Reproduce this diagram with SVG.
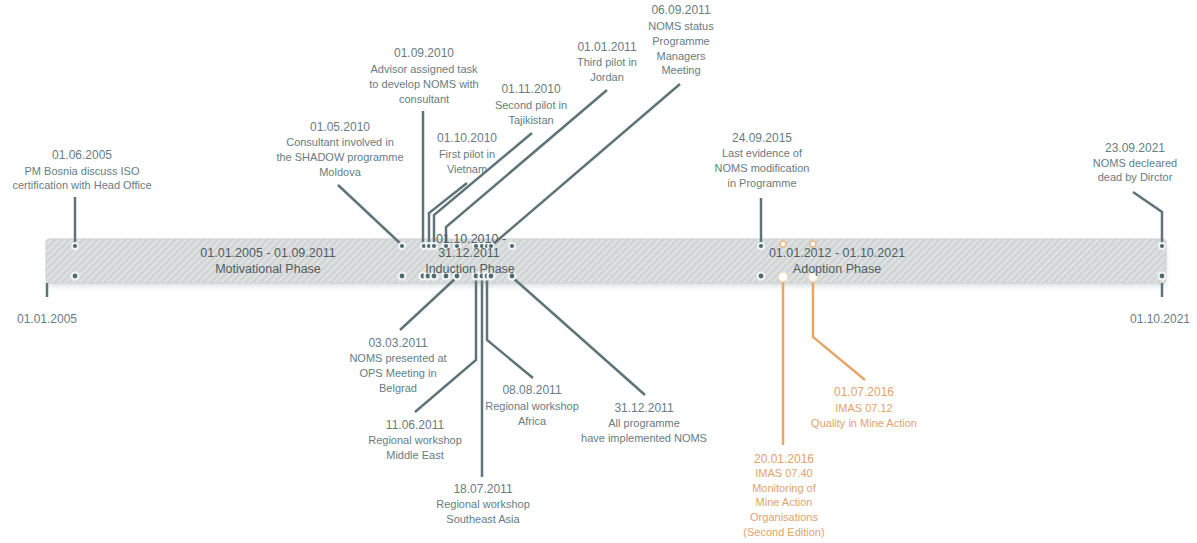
<svg xmlns="http://www.w3.org/2000/svg" width="1197" height="543" viewBox="0 0 1197 543">
<defs>
<pattern id="hatch" width="5" height="5" patternUnits="userSpaceOnUse" patternTransform="rotate(45)">
<rect width="5" height="5" fill="#d2d5d5"/>
<rect width="2" height="5" fill="#e1e3e3"/>
</pattern>
<filter id="sh" x="-5%" y="-50%" width="110%" height="200%">
<feGaussianBlur stdDeviation="2.5"/>
</filter>
<style>
.d{font-family:"Liberation Sans",Arial,sans-serif;font-size:12px;fill:#667d83;text-anchor:middle}
.t{font-family:"Liberation Sans",Arial,sans-serif;font-size:11px;fill:#667d83;text-anchor:middle}
.od{font-family:"Liberation Sans",Arial,sans-serif;font-size:12px;fill:#e2a36a;text-anchor:middle}
.ot{font-family:"Liberation Sans",Arial,sans-serif;font-size:11px;fill:#e2a36a;text-anchor:middle}
.p{font-family:"Liberation Sans",Arial,sans-serif;font-size:12.5px;fill:#4e5e62;text-anchor:middle}
.ln{fill:none;stroke:#5e7479;stroke-width:2.5;stroke-linejoin:miter}
.ol{fill:none;stroke:#e4a769;stroke-width:2.5}
.dt{fill:#516a70;stroke:#f2f5f5;stroke-width:1.8}
.dtb{fill:#516a70;stroke:#f2f5f5;stroke-width:2.2}
.odt{fill:#ffffff;stroke:#ebb886;stroke-width:1.5}
.odb{fill:#ffffff;stroke:#f1d2b4;stroke-width:1.2}
</style>
</defs>
<rect width="1197" height="543" fill="#ffffff"/>

<g id="band">
<rect x="48" y="242" width="1118" height="44" rx="3" fill="#aab4b6" opacity="0.45" filter="url(#sh)"/>
<rect x="46" y="239" width="1120" height="44" rx="3" fill="url(#hatch)" stroke="#cdd1d1" stroke-width="1"/>
</g>

<g id="connectors">
<path class="ln" d="M75,197 V246"/>
<path class="ln" d="M338,185 L402,245"/>
<path class="ln" d="M423,111 V246"/>
<path class="ln" d="M467,183 L429,213 V246"/>
<path class="ln" d="M532,133 L434,215 V246"/>
<path class="ln" d="M607,90 L446,227 V246"/>
<path class="ln" d="M680,84 L491,246"/>
<path class="ln" d="M761,198 V246"/>
<path class="ln" d="M1133,192 L1162,212 V246"/>
<path class="ln" d="M47,283 V297"/>
<path class="ln" d="M1162,283 V297"/>
<path class="ln" d="M457,277 L400,330"/>
<path class="ln" d="M476,277 V360 L415,412"/>
<path class="ln" d="M482,277 V477"/>
<path class="ln" d="M487,277 V340 L533,378"/>
<path class="ln" d="M512,277 L645,395"/>
<path class="ol" d="M783,277 V445"/>
<path class="ol" d="M813,277 V337 L865,380"/>
</g>

<g id="dots">
<circle class="dt" cx="75" cy="246" r="3"/><circle class="dtb" cx="75" cy="276" r="3.5"/>
<circle class="dt" cx="402" cy="246" r="3"/><circle class="dtb" cx="402" cy="276" r="3.5"/>
<circle class="dt" cx="424" cy="246" r="3"/><circle class="dtb" cx="423" cy="276" r="3.5"/>
<circle class="dt" cx="429" cy="246" r="3"/><circle class="dtb" cx="428" cy="276" r="3.5"/>
<circle class="dt" cx="434" cy="246" r="3"/><circle class="dtb" cx="434" cy="276" r="3.5"/>
<circle class="dt" cx="446" cy="246" r="3"/><circle class="dtb" cx="446" cy="276" r="3.5"/>
<circle class="dt" cx="457" cy="246" r="3"/><circle class="dtb" cx="457" cy="276" r="3.5"/>
<circle class="dt" cx="476" cy="246" r="3"/><circle class="dtb" cx="476" cy="276" r="3.5"/>
<circle class="dt" cx="482" cy="246" r="3"/><circle class="dtb" cx="482" cy="276" r="3.5"/>
<circle class="dt" cx="487" cy="246" r="3"/><circle class="dtb" cx="487" cy="276" r="3.5"/>
<circle class="dt" cx="491" cy="246" r="3"/><circle class="dtb" cx="491" cy="276" r="3.5"/>
<circle class="dt" cx="512" cy="246" r="3"/><circle class="dtb" cx="512" cy="276" r="3.5"/>
<circle class="dt" cx="761" cy="246" r="3"/><circle class="dtb" cx="761" cy="276" r="3.5"/>
<circle class="dt" cx="1162" cy="246" r="3"/><circle class="dtb" cx="1162" cy="276" r="3.5"/>
<circle class="odt" cx="783" cy="244" r="3"/><circle class="odb" cx="783" cy="277" r="5"/>
<circle class="odt" cx="813" cy="244" r="3"/><circle class="odb" cx="813" cy="277" r="5"/>
</g>

<g id="phase-motivational">
<text class="p" x="268" y="257">01.01.2005 - 01.09.2011</text>
<text class="p" x="268" y="273">Motivational Phase</text>
</g>
<g id="phase-induction">
<text class="p" x="471" y="243">01.10.2010 -</text>
<text class="p" x="469" y="257">31.12.2011</text>
<text class="p" x="470" y="273">Induction Phase</text>
</g>
<g id="phase-adoption">
<text class="p" x="837" y="257">01.01.2012 - 01.10.2021</text>
<text class="p" x="837" y="273">Adoption Phase</text>
</g>

<g id="ev-20050101"><text class="d" x="47" y="323">01.01.2005</text></g>
<g id="ev-20211001"><text class="d" x="1160" y="323">01.10.2021</text></g>

<g id="ev-20050601">
<text class="d" x="82" y="159">01.06.2005</text>
<text class="t" x="82" y="175">PM Bosnia discuss ISO</text>
<text class="t" x="82" y="189">certification with Head Office</text>
</g>
<g id="ev-20100501">
<text class="d" x="340" y="131">01.05.2010</text>
<text class="t" x="340" y="146">Consultant involved in</text>
<text class="t" x="340" y="161">the SHADOW programme</text>
<text class="t" x="340" y="176">Moldova</text>
</g>
<g id="ev-20100901">
<text class="d" x="424" y="57">01.09.2010</text>
<text class="t" x="424" y="73">Advisor assigned task</text>
<text class="t" x="424" y="88">to develop NOMS with</text>
<text class="t" x="424" y="103">consultant</text>
</g>
<g id="ev-20101001">
<text class="d" x="467" y="142">01.10.2010</text>
<text class="t" x="467" y="158">First pilot in</text>
<text class="t" x="467" y="173">Vietnam</text>
</g>
<g id="ev-20101101">
<text class="d" x="531" y="93">01.11.2010</text>
<text class="t" x="531" y="109">Second pilot in</text>
<text class="t" x="531" y="124">Tajikistan</text>
</g>
<g id="ev-20110101">
<text class="d" x="607" y="51">01.01.2011</text>
<text class="t" x="607" y="66">Third pilot in</text>
<text class="t" x="607" y="81">Jordan</text>
</g>
<g id="ev-20110906">
<text class="d" x="681" y="14">06.09.2011</text>
<text class="t" x="681" y="30">NOMS status</text>
<text class="t" x="681" y="45">Programme</text>
<text class="t" x="681" y="60">Managers</text>
<text class="t" x="681" y="74">Meeting</text>
</g>
<g id="ev-20150924">
<text class="d" x="762" y="142">24.09.2015</text>
<text class="t" x="762" y="157">Last evidence of</text>
<text class="t" x="762" y="172">NOMS modification</text>
<text class="t" x="762" y="187">in Programme</text>
</g>
<g id="ev-20210923">
<text class="d" x="1135" y="152">23.09.2021</text>
<text class="t" x="1135" y="167">NOMS decleared</text>
<text class="t" x="1135" y="181">dead by Dirctor</text>
</g>
<g id="ev-20110303">
<text class="d" x="398" y="347">03.03.2011</text>
<text class="t" x="398" y="362">NOMS presented at</text>
<text class="t" x="398" y="377">OPS Meeting in</text>
<text class="t" x="398" y="392">Belgrad</text>
</g>
<g id="ev-20110611">
<text class="d" x="415" y="429">11.06.2011</text>
<text class="t" x="415" y="444">Regional workshop</text>
<text class="t" x="415" y="459">Middle East</text>
</g>
<g id="ev-20110718">
<text class="d" x="483" y="493">18.07.2011</text>
<text class="t" x="483" y="508">Regional workshop</text>
<text class="t" x="483" y="523">Southeast Asia</text>
</g>
<g id="ev-20110808">
<text class="d" x="532" y="394">08.08.2011</text>
<text class="t" x="532" y="410">Regional workshop</text>
<text class="t" x="532" y="425">Africa</text>
</g>
<g id="ev-20111231">
<text class="d" x="644" y="412">31.12.2011</text>
<text class="t" x="644" y="427">All programme</text>
<text class="t" x="644" y="442">have implemented NOMS</text>
</g>
<g id="ev-20160120">
<text class="od" x="784" y="463">20.01.2016</text>
<text class="ot" x="784" y="477">IMAS 07.40</text>
<text class="ot" x="784" y="492">Monitoring of</text>
<text class="ot" x="784" y="506">Mine Action</text>
<text class="ot" x="784" y="521">Organisations</text>
<text class="ot" x="784" y="536">(Second Edition)</text>
</g>
<g id="ev-20160701">
<text class="od" x="864" y="396">01.07.2016</text>
<text class="ot" x="864" y="412">IMAS 07.12</text>
<text class="ot" x="864" y="427">Quality in Mine Action</text>
</g>
</svg>
